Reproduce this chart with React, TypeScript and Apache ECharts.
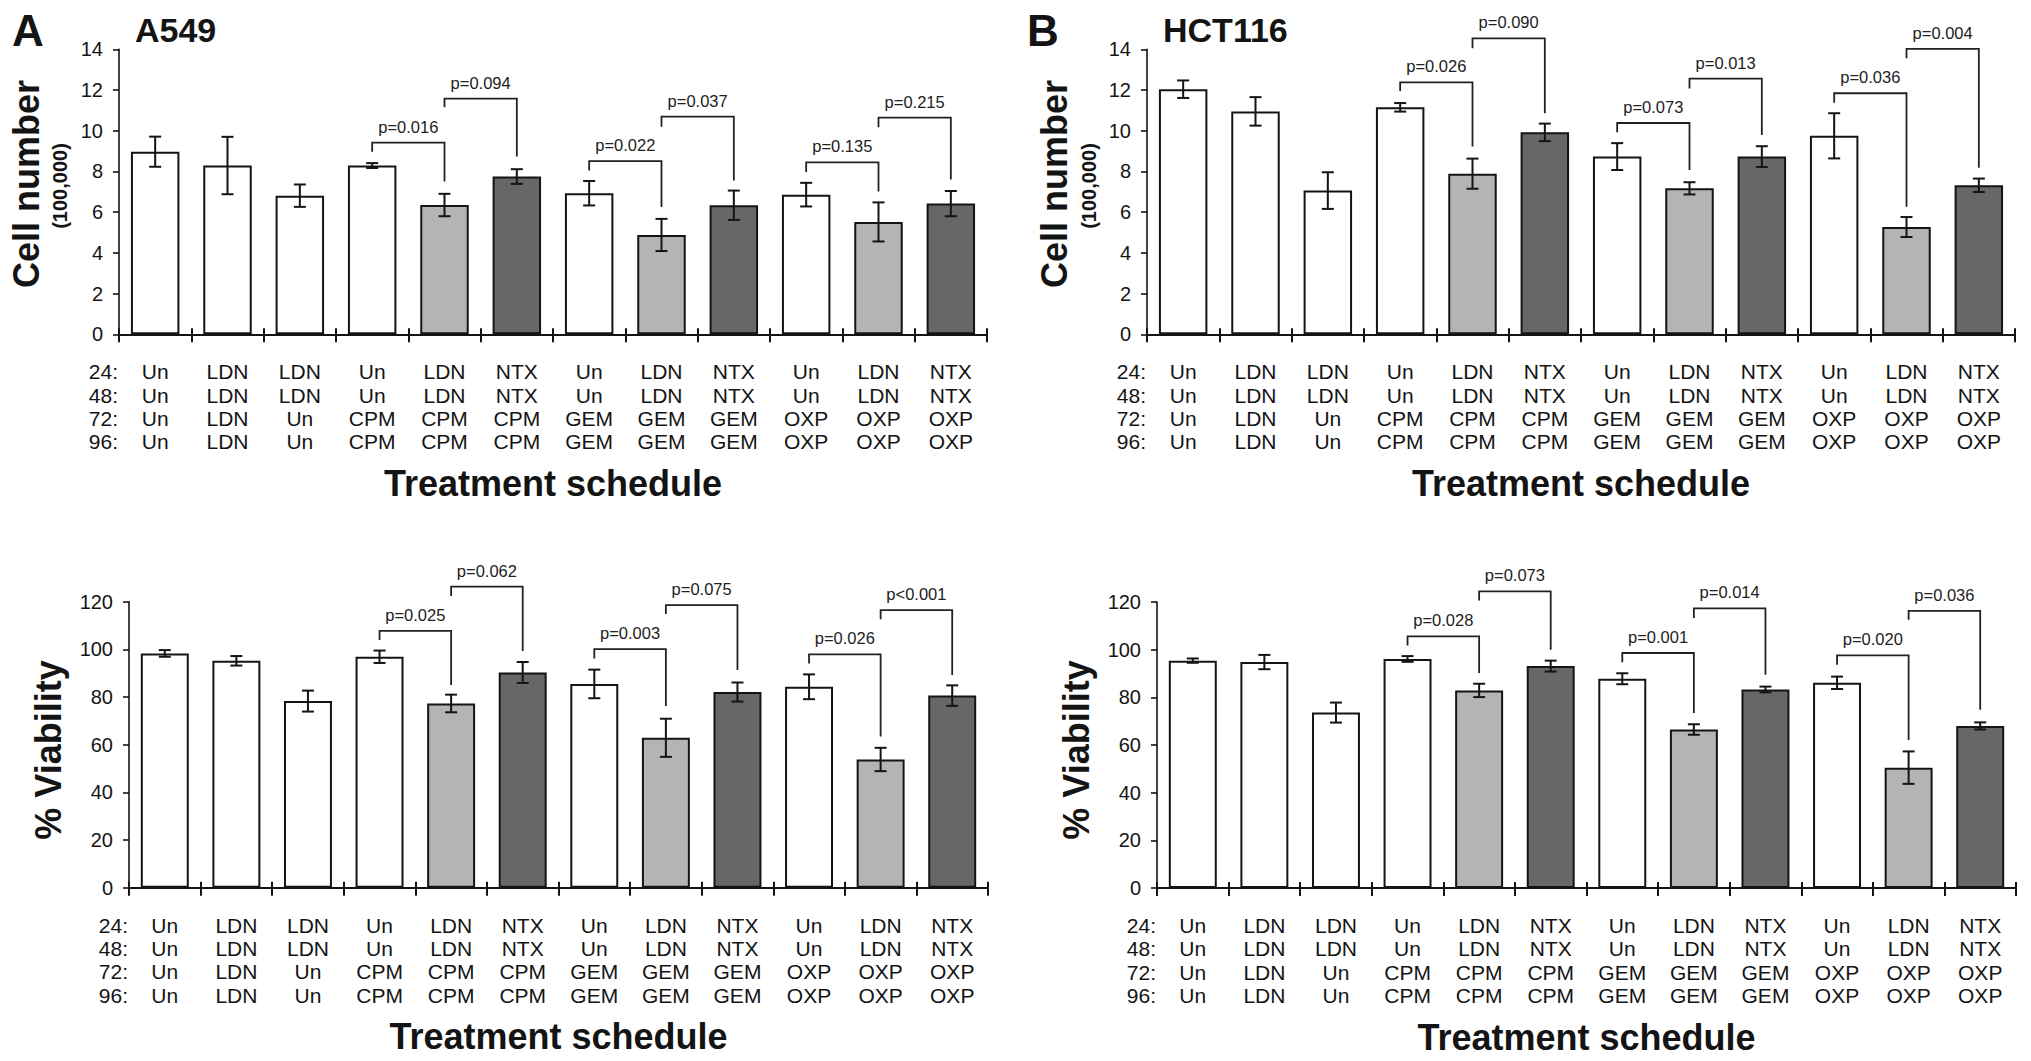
import React, { useEffect, useRef } from "react";
import * as echarts from "echarts";

// ---------- data ----------
const row24 = ["Un", "LDN", "LDN", "Un", "LDN", "NTX", "Un", "LDN", "NTX", "Un", "LDN", "NTX"];
const row48 = ["Un", "LDN", "LDN", "Un", "LDN", "NTX", "Un", "LDN", "NTX", "Un", "LDN", "NTX"];
const row72 = ["Un", "LDN", "Un", "CPM", "CPM", "CPM", "GEM", "GEM", "GEM", "OXP", "OXP", "OXP"];
const row96 = ["Un", "LDN", "Un", "CPM", "CPM", "CPM", "GEM", "GEM", "GEM", "OXP", "OXP", "OXP"];
const hourLabels = ["24:", "48:", "72:", "96:"];
const barKinds = ["w", "w", "w", "w", "l", "d", "w", "l", "d", "w", "l", "d"];

const a549CellMean = [8.97, 8.29, 6.81, 8.29, 6.35, 7.75, 6.93, 4.88, 6.34, 6.86, 5.52, 6.42];
const a549CellErr = [0.74, 1.41, 0.55, 0.12, 0.55, 0.36, 0.6, 0.79, 0.72, 0.58, 0.96, 0.62];
const hctCellMean = [12.04, 10.95, 7.06, 11.15, 7.89, 9.92, 8.73, 7.17, 8.73, 9.75, 5.27, 7.32];
const hctCellErr = [0.43, 0.7, 0.9, 0.21, 0.74, 0.43, 0.66, 0.3, 0.51, 1.11, 0.49, 0.33];
const a549ViaMean = [98.3, 95.2, 78.3, 96.9, 77.3, 90.3, 85.5, 62.9, 82.1, 84.3, 53.8, 80.6];
const a549ViaErr = [1.4, 2.0, 4.4, 2.6, 3.7, 4.4, 6.0, 8.0, 4.0, 5.2, 4.9, 4.3];
const hctViaMean = [95.4, 94.8, 73.6, 96.1, 82.9, 93.1, 87.8, 66.5, 83.3, 86.1, 50.5, 68.0];
const hctViaErr = [0.9, 3.0, 4.2, 1.2, 2.8, 2.3, 2.3, 2.2, 1.2, 2.6, 6.8, 1.5];

// [fromIndex, toIndex, bracketTop, leftLegEnd, rightLegEnd, label]
const a549CellBrackets: any[] = [
  [3, 4, 9.42, 8.97, 7.5, "p=0.016"],
  [4, 5, 11.58, 11.15, 8.73, "p=0.094"],
  [6, 7, 8.51, 8.05, 6.25, "p=0.022"],
  [7, 8, 10.69, 10.2, 7.56, "p=0.037"],
  [9, 10, 8.45, 7.97, 7.02, "p=0.135"],
  [10, 11, 10.64, 10.17, 7.61, "p=0.215"],
];
const hctCellBrackets: any[] = [
  [3, 4, 12.38, 11.95, 9.22, "p=0.026"],
  [4, 5, 14.54, 14.05, 10.86, "p=0.090"],
  [6, 7, 10.38, 9.92, 8.07, "p=0.073"],
  [7, 8, 12.56, 12.08, 9.79, "p=0.013"],
  [9, 10, 11.84, 11.38, 6.27, "p=0.036"],
  [10, 11, 14.02, 13.56, 8.18, "p=0.004"],
];
const a549ViaBrackets: any[] = [
  [3, 4, 107.8, 103.9, 85.0, "p=0.025"],
  [4, 5, 126.3, 122.4, 99.3, "p=0.062"],
  [6, 7, 100.1, 96.2, 76.2, "p=0.003"],
  [7, 8, 118.6, 114.8, 91.3, "p=0.075"],
  [9, 10, 97.9, 94.1, 63.4, "p=0.026"],
  [10, 11, 116.5, 112.6, 89.2, "p<0.001"],
];
const hctViaBrackets: any[] = [
  [3, 4, 105.6, 101.7, 90.2, "p=0.028"],
  [4, 5, 124.5, 120.6, 100.0, "p=0.073"],
  [6, 7, 98.6, 94.7, 73.4, "p=0.001"],
  [7, 8, 117.3, 113.3, 89.5, "p=0.014"],
  [9, 10, 97.6, 93.7, 62.1, "p=0.020"],
  [10, 11, 116.3, 112.6, 74.8, "p=0.036"],
];

const cellTicks = { min: 0, max: 14, interval: 2 };
const viaTicks = { min: 0, max: 120, interval: 20 };

// ---------- styling ----------
const FONT = "'Liberation Sans', Arial, Helvetica, sans-serif";
const INK = "#141414";
const FILL: Record<string, string> = { w: "#ffffff", l: "#b4b4b4", d: "#676767" };

const categories = row24.map((_, i) => [row24[i], row48[i], row72[i], row96[i]].join("\n"));

const panels = [
  { left: 119, top: 49.3, width: 868, height: 285, means: a549CellMean, errs: a549CellErr, brackets: a549CellBrackets, ticks: cellTicks },
  { left: 1147, top: 49.3, width: 868, height: 285, means: hctCellMean, errs: hctCellErr, brackets: hctCellBrackets, ticks: cellTicks },
  { left: 129, top: 601.7, width: 859, height: 286, means: a549ViaMean, errs: a549ViaErr, brackets: a549ViaBrackets, ticks: viaTicks },
  { left: 1157, top: 602, width: 859, height: 286, means: hctViaMean, errs: hctViaErr, brackets: hctViaBrackets, ticks: viaTicks },
];

function txt(text: string, x: number, y: number, size: number, bold: boolean, align = "left", rotation = 0) {
  return {
    type: "text",
    x,
    y,
    rotation,
    silent: true,
    style: {
      text,
      fill: INK,
      fontSize: size,
      fontWeight: bold ? "bold" : "normal",
      fontFamily: FONT,
      align,
      textAlign: align,
      verticalAlign: "middle",
      textVerticalAlign: "middle",
    },
  };
}

function buildOption() {
  const grid: any[] = [];
  const xAxis: any[] = [];
  const yAxis: any[] = [];
  const series: any[] = [];
  const graphic: any[] = [];

  panels.forEach((p, gi) => {
    grid.push({ left: p.left, top: p.top, width: p.width, height: p.height, containLabel: false });
    xAxis.push({
      type: "category",
      gridIndex: gi,
      data: categories,
      position: "bottom",
      axisLine: { show: true, lineStyle: { color: INK, width: 2 } },
      axisTick: { show: true, length: 8, lineStyle: { color: INK, width: 2 } },
      axisLabel: {
        interval: 0,
        margin: 26,
        color: INK,
        fontSize: 21,
        fontFamily: FONT,
        lineHeight: 23.3,
        align: "center",
      },
      splitLine: { show: false },
    });
    yAxis.push({
      type: "value",
      gridIndex: gi,
      min: p.ticks.min,
      max: p.ticks.max,
      interval: p.ticks.interval,
      axisLine: { show: true, lineStyle: { color: INK, width: 1.6 } },
      axisTick: { show: true, length: 6, lineStyle: { color: INK, width: 1.6 } },
      axisLabel: { color: INK, fontSize: 20, fontFamily: FONT, margin: 16 },
      splitLine: { show: false },
    });
  });
  // inner half of the x ticks
  panels.forEach((p, gi) => {
    xAxis.push({
      type: "category",
      gridIndex: gi,
      data: categories,
      position: "bottom",
      axisLine: { show: false },
      axisTick: { show: true, inside: true, length: 6, lineStyle: { color: INK, width: 2 } },
      axisLabel: { show: false },
      splitLine: { show: false },
    });
  });

  panels.forEach((p, gi) => {
    series.push({
      type: "bar",
      xAxisIndex: gi,
      yAxisIndex: gi,
      barWidth: "67%",
      silent: true,
      data: p.means.map((v, i) => ({
        value: v,
        itemStyle: { color: FILL[barKinds[i]], borderColor: INK, borderWidth: 2 },
      })),
    });
    series.push({
      type: "custom",
      xAxisIndex: gi,
      yAxisIndex: gi,
      clip: false,
      silent: true,
      z: 5,
      encode: { x: 0, y: [1, 2] },
      data: p.means.map((m, i) => [i, m - p.errs[i], m + p.errs[i]]),
      renderItem: (params: any, api: any) => {
        const x = api.value(0);
        const lo = api.coord([x, api.value(1)]);
        const hi = api.coord([x, api.value(2)]);
        const cx = lo[0];
        const hw = 6;
        const st = { stroke: INK, lineWidth: 2 };
        return {
          type: "group",
          children: [
            { type: "line", shape: { x1: cx, y1: lo[1], x2: cx, y2: hi[1] }, style: st },
            { type: "line", shape: { x1: cx - hw, y1: hi[1], x2: cx + hw, y2: hi[1] }, style: st },
            { type: "line", shape: { x1: cx - hw, y1: lo[1], x2: cx + hw, y2: lo[1] }, style: st },
          ],
        };
      },
    });
    const br = p.brackets;
    series.push({
      type: "custom",
      xAxisIndex: gi,
      yAxisIndex: gi,
      clip: false,
      silent: true,
      z: 6,
      encode: { x: [0, 1], y: [2, 3, 4] },
      data: br.map((b) => [b[0], b[1], b[2], b[3], b[4]]),
      renderItem: (params: any, api: any) => {
        const a = api.value(0);
        const b = api.value(1);
        const top = api.value(2);
        const pA = api.coord([a, top]);
        const pB = api.coord([b, top]);
        const lEnd = api.coord([a, api.value(3)]);
        const rEnd = api.coord([b, api.value(4)]);
        const label = br[params.dataIndex][5];
        return {
          type: "group",
          children: [
            {
              type: "polyline",
              shape: { points: [[pA[0], lEnd[1]], [pA[0], pA[1]], [pB[0], pB[1]], [pB[0], rEnd[1]]] },
              style: { stroke: "#222", lineWidth: 1.8, fill: "none" },
            },
            {
              type: "text",
              x: (pA[0] + pB[0]) / 2,
              y: pA[1] - 16,
              style: {
                text: label,
                fill: "#222",
                fontSize: 16.5,
                fontFamily: FONT,
                align: "center",
                verticalAlign: "middle",
              },
            },
          ],
        };
      },
    });

    const bottom = p.top + p.height;
    hourLabels.forEach((h, k) => {
      graphic.push(txt(h, p.left - 1, bottom + 37.4 + k * 23.3, 21, false, "right"));
    });
    graphic.push(txt("Treatment schedule", p.left + p.width / 2, bottom + 149, 36, true, "center"));
  });

  // panel letters and titles
  graphic.push(txt("A", 12, 30, 44, true));
  graphic.push(txt("A549", 135, 30, 34, true));
  graphic.push(txt("B", 1027, 30, 44, true));
  graphic.push(txt("HCT116", 1163, 30, 34, true));
  // y titles
  graphic.push(txt("Cell number", 26, 184, 36, true, "center", Math.PI / 2));
  graphic.push(txt("(100,000)", 60, 186, 20, true, "center", Math.PI / 2));
  graphic.push(txt("Cell number", 1054, 184, 36, true, "center", Math.PI / 2));
  graphic.push(txt("(100,000)", 1089, 186, 20, true, "center", Math.PI / 2));
  graphic.push(txt("% Viability", 48, 750, 36, true, "center", Math.PI / 2));
  graphic.push(txt("% Viability", 1076, 750, 36, true, "center", Math.PI / 2));

  return {
    animation: false,
    backgroundColor: "#ffffff",
    textStyle: { fontFamily: FONT },
    grid,
    xAxis,
    yAxis,
    series,
    graphic: { elements: graphic },
  };
}

export default function App() {
  const ref = useRef<HTMLDivElement>(null);
  useEffect(() => {
    if (!ref.current) return;
    const chart = echarts.init(ref.current, undefined, { renderer: "svg" });
    chart.setOption(buildOption() as any);
    return () => chart.dispose();
  }, []);
  return (
    <div
      ref={ref}
      style={{ position: "absolute", left: 0, top: 0, width: 2031, height: 1061, background: "#fff" }}
    />
  );
}
